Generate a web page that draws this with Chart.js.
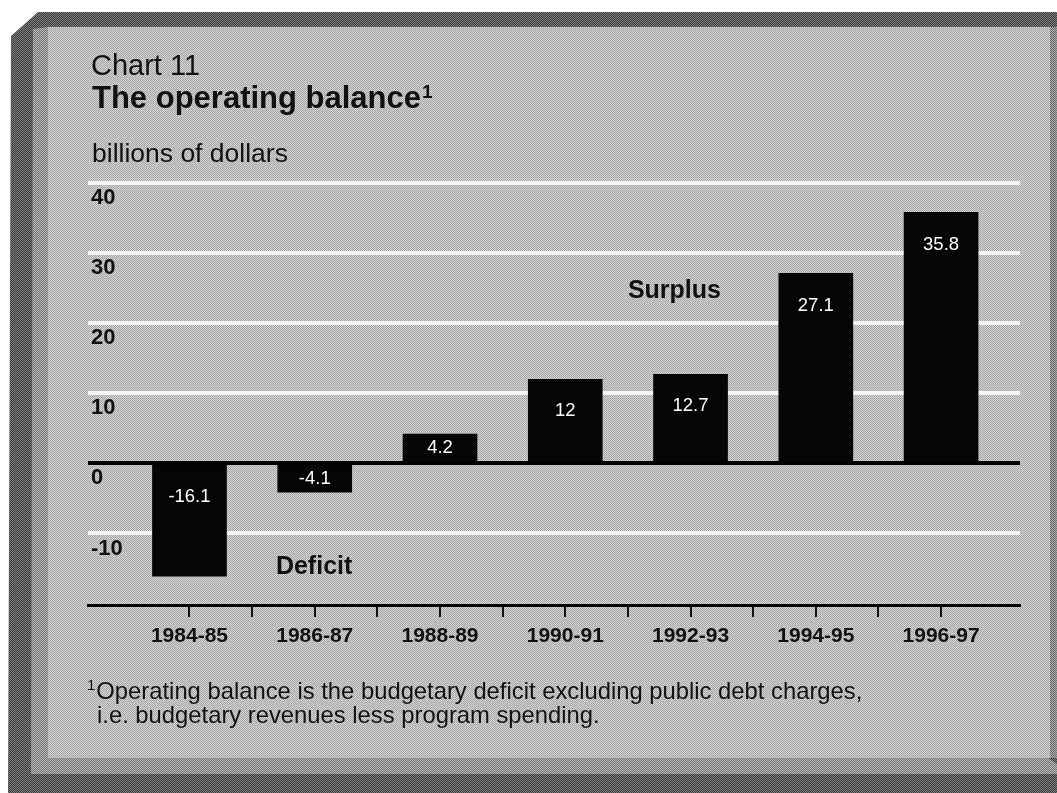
<!DOCTYPE html>
<html>
<head>
<meta charset="utf-8">
<title>Chart 11 - The operating balance</title>
<script src="https://cdn.jsdelivr.net/npm/chart.js@4.4.1/dist/chart.umd.min.js"></script>
<style>
    html, body { margin: 0; padding: 0; background: #fff; }
    #page { position: relative; width: 1057px; height: 793px; overflow: hidden; font-family: "Liberation Sans", Arial, Helvetica, sans-serif; color: #111; }
    .layer { position: absolute; left: 0; top: 0; width: 1057px; height: 793px; }
    #outer { background: repeating-conic-gradient(#3e3e3e 0 25%, #7c7c7c 0 50%) 0 0/2px 2px;
             clip-path: polygon(38px 12px, 1057px 12px, 1057px 793px, 8px 793px, 11px 36px); }
    #bevel { background: repeating-conic-gradient(#7a7a7a 0 25%, #b2b2b2 0 50%) 0 0/2px 2px;
             clip-path: polygon(33px 29px, 48px 27px, 48px 758px, 1048px 758px, 1057px 764px, 1057px 774px, 31px 774px); }
    #face { position: absolute; left: 48px; top: 27px; width: 1002px; height: 731px;
            background: repeating-conic-gradient(#a4a4a4 0 25%, #d6d6d6 0 50%) 0 0/2px 2px; }
    #rightEdge { position: absolute; left: 1050px; top: 27px; width: 7px; height: 731px;
                 background: repeating-conic-gradient(#6e6e6e 0 25%, #a8a8a8 0 50%) 0 0/2px 2px; }
    canvas { position: absolute; left: 0; top: 0; }
    .txt { position: absolute; white-space: nowrap; line-height: 1; }
    #chartNo { left: 91px; top: 51px; font-size: 29px; }
    #title { left: 92px; top: 82px; font-size: 31px; font-weight: bold; }
    #title span { font-size: 19px; vertical-align: 10px; margin-left: 1px; }
    #units { left: 92px; top: 140px; font-size: 26.5px; }
    .note { font-size: 23.8px; }
    #note1 { left: 87px; top: 677px; }
    #note1 span { font-size: 15px; vertical-align: 9px; margin-right: 1px; }
    #note2 { left: 97px; top: 703px; }
</style>
</head>
<body>
<div id="page">
    <div class="layer" id="outer"></div>
    <div class="layer" id="bevel"></div>
    <div id="face"></div>
    <div id="rightEdge"></div>
    <canvas id="balanceChart" width="1057" height="793"></canvas>
    <div class="txt" id="chartNo">Chart 11</div>
    <div class="txt" id="title">The operating balance<span>1</span></div>
    <div class="txt" id="units">billions of dollars</div>
    <div class="txt note" id="note1"><span>1</span>Operating balance is the budgetary deficit excluding public debt charges,</div>
    <div class="txt note" id="note2">i.e. budgetary revenues less program spending.</div>
</div>
<script>
const categories = ['1984-85', '1986-87', '1988-89', '1990-91', '1992-93', '1994-95', '1996-97'];
const balanceValues = [-16.1, -4.1, 4.2, 12, 12.7, 27.1, 35.8];
const yTickValues = [-10, 0, 10, 20, 30, 40];

// where the two zone words sit, in axis units
const zoneNotes = [
    {text: 'Surplus', x: 3.5, y: 24.6},
    {text: 'Deficit', x: 0.69, y: -14.8}
];

const FONT = '"Liberation Sans", Arial, Helvetica, sans-serif';

document.addEventListener('DOMContentLoaded', () => {
    new OperatingBalanceChart(document.getElementById('balanceChart'));
});

class OperatingBalanceChart {
    #chart = null;

    constructor(canvas) {
        Chart.defaults.font.family = FONT;
        Chart.defaults.color = '#111';
        this.#createChart(canvas);
    }

    #barTextPlugin() {
        return {
            id: 'barText',
            afterDatasetsDraw(chart) {
                const {ctx} = chart;
                const meta = chart.getDatasetMeta(0);
                ctx.save();
                ctx.fillStyle = '#fff';
                ctx.font = '18.5px ' + FONT;
                ctx.textAlign = 'center';
                ctx.textBaseline = 'middle';
                meta.data.forEach((bar, i) => {
                    const upper = Math.min(bar.y, bar.base);
                    const lower = Math.max(bar.y, bar.base);
                    const h = lower - upper;
                    const y = h < 62 ? upper + h / 2 : upper + 32;
                    ctx.fillText(String(balanceValues[i]), bar.x, y);
                });

                ctx.fillStyle = '#111';
                ctx.font = 'bold 25px ' + FONT;
                ctx.textAlign = 'left';
                zoneNotes.forEach(n => {
                    ctx.fillText(n.text, chart.scales.x.getPixelForValue(n.x), chart.scales.y.getPixelForValue(n.y));
                });
                ctx.restore();
            }
        };
    }

    #createChart(canvas) {
        // ticks at every category and halfway between them
        const xTickValues = categories.flatMap((c, i) => i ? [i - 0.5, i] : [i]);

        this.#chart = new Chart(canvas.getContext('2d'), {
            type: 'bar',
            data: {
                datasets: [{
                    data: balanceValues.map((v, i) => ({x: i, y: v})),
                    backgroundColor: '#050505',
                    borderWidth: 0,
                    barThickness: 74
                }]
            },
            options: {
                responsive: false,
                animation: false,
                devicePixelRatio: 1,
                layout: {padding: {left: 86, top: 183, right: 37, bottom: 0}},
                plugins: {
                    legend: {display: false},
                    tooltip: {enabled: false},
                    title: {display: false}
                },
                scales: {
                    x: {
                        type: 'linear',
                        min: -0.81,
                        max: 6.63,
                        offset: false,
                        afterBuildTicks: scale => {
                            scale.ticks = xTickValues.map(value => ({value}));
                        },
                        afterFit: scale => { scale.height = 188; },
                        border: {display: true, color: '#000', width: 3},
                        grid: {display: true, offset: false, drawOnChartArea: false, drawTicks: true, tickLength: 12, color: '#111', lineWidth: 2},
                        ticks: {
                            autoSkip: false,
                            maxRotation: 0,
                            padding: 7,
                            color: '#111',
                            font: {size: 21, weight: 'bold'},
                            callback: value => Number.isInteger(value) ? categories[value] : ''
                        }
                    },
                    y: {
                        min: -20.2,
                        max: 40,
                        afterBuildTicks: scale => {
                            scale.ticks = yTickValues.map(value => ({value}));
                        },
                        afterFit: scale => { scale.width = 2; },
                        border: {display: false},
                        grid: {
                            drawTicks: false,
                            lineWidth: 4,
                            color: ctx => ctx.tick && ctx.tick.value === 0 ? '#000' : '#f4f4f4'
                        },
                        ticks: {
                            mirror: true,
                            padding: 3,
                            labelOffset: 15,
                            color: '#111',
                            font: {size: 22, weight: 'bold'},
                            callback: value => String(value)
                        }
                    }
                }
            },
            plugins: [this.#barTextPlugin()]
        });
    }
}
</script>
</body>
</html>
